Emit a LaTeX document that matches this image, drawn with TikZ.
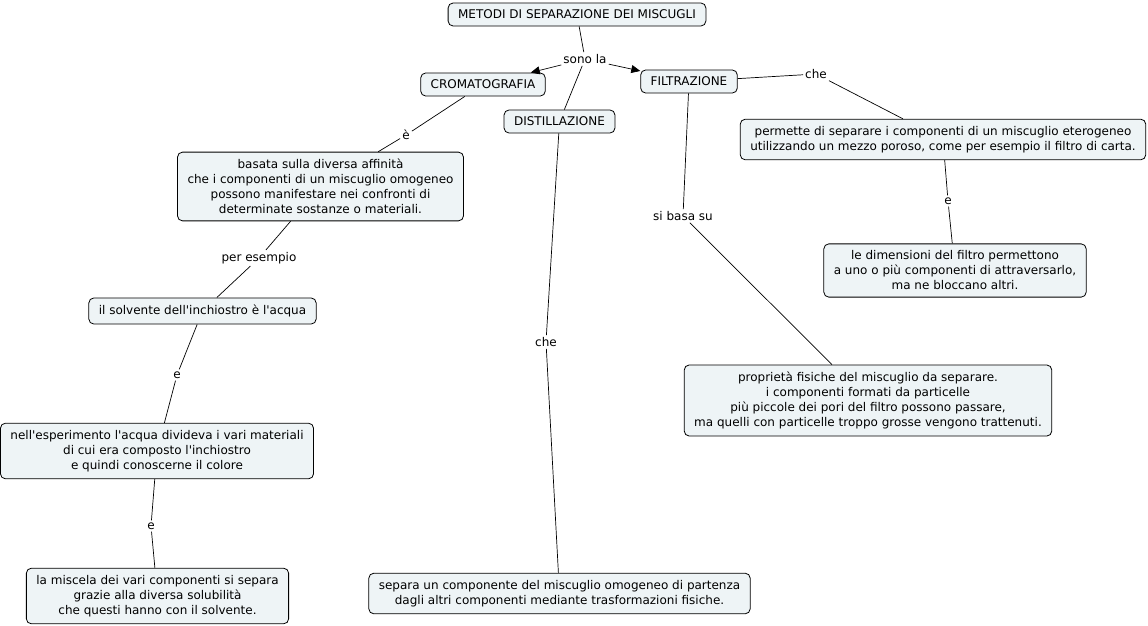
\documentclass[tikz,border=0pt]{standalone}
\usepackage{fontspec}
\newfontfamily\mapfont{DejaVu Sans}
\usetikzlibrary{arrows.meta}
\definecolor{conceptfill}{RGB}{238,244,246}

\begin{document}
\begin{tikzpicture}[x=1pt, y=-1pt, font=\mapfont\fontsize{12}{15}\selectfont]
% Define block styles
\tikzstyle{concept} = [rectangle, draw, fill=conceptfill, line width=0.8pt,
    align=center, rounded corners=5pt, inner xsep=10pt, inner ysep=7pt]
\tikzstyle{phrase} = [fill=white, inner sep=2pt]
\tikzstyle{line} = [draw, line width=0.7pt]
\tikzstyle{arrow} = [draw, line width=0.7pt, -{Triangle[length=9pt,width=8pt]}]

    \useasboundingbox (0,0) rectangle (1148,626);
    % Place nodes
    \node [concept] (metodi) at (577,14.5) {METODI DI SEPARAZIONE DEI MISCUGLI};
    \node [phrase] (sonola) at (585,59) {sono la};
    \node [concept] (croma) at (483,84.5) {CROMATOGRAFIA};
    \node [concept] (distil) at (559.5,121.5) {DISTILLAZIONE};
    \node [concept] (filtra) at (689,81.5) {FILTRAZIONE};
    \node [phrase] (cheF) at (816,74) {che};
    \node [concept] (permette) at (943,139.5) {permette di separare i componenti di un miscuglio eterogeneo\\utilizzando un mezzo poroso, come per esempio il filtro di carta.};
    \node [phrase] (eF) at (948,201) {e};
    \node [concept] (dimensioni) at (955,270.5) {le dimensioni del filtro permettono\\a uno o più componenti di attraversarlo,\\ma ne bloccano altri.};
    \node [phrase] (basasu) at (683,216) {si basa su};
    \node [concept] (proprieta) at (868,400.5) {proprietà fisiche del miscuglio da separare.\\i componenti formati da particelle\\più piccole dei pori del filtro possono passare,\\ma quelli con particelle troppo grosse vengono trattenuti.};
    \node [phrase] (cheD) at (546,342) {che};
    \node [concept] (separa) at (559.5,593.5) {separa un componente del miscuglio omogeneo di partenza\\dagli altri componenti mediante trasformazioni fisiche.};
    \node [phrase] (eC) at (406,135) {è};
    \node [concept] (basata) at (320.5,186.5) {basata sulla diversa affinità\\che i componenti di un miscuglio omogeneo\\possono manifestare nei confronti di\\determinate sostanze o materiali.};
    \node [phrase] (peresempio) at (259,258) {per esempio};
    \node [concept] (solvente) at (202.5,311) {il solvente dell'inchiostro è l'acqua};
    \node [phrase] (e1) at (177,375) {e};
    \node [concept] (esperimento) at (157,451) {nell'esperimento l'acqua divideva i vari materiali\\di cui era composto l'inchiostro\\e quindi conoscerne il colore};
    \node [phrase] (e2) at (151,526) {e};
    \node [concept] (miscela) at (157.5,596) {la miscela dei vari componenti si separa\\grazie alla diversa solubilità\\che questi hanno con il solvente.};
    % Draw edges
    \path [line] (metodi) -- (sonola);
    \path [arrow] (sonola) -- (croma);
    \path [arrow] (sonola) -- (filtra);
    \path [line] (sonola) -- (distil);
    \path [line] (filtra) -- (cheF);
    \path [line] (cheF) -- (permette);
    \path [line] (permette) -- (eF);
    \path [line] (eF) -- (dimensioni);
    \path [line] (filtra) -- (basasu);
    \path [line] (basasu) -- (proprieta);
    \path [line] (distil) -- (cheD);
    \path [line] (cheD) -- (separa);
    \path [line] (croma) -- (eC);
    \path [line] (eC) -- (basata);
    \path [line] (basata) -- (peresempio);
    \path [line] (peresempio) -- (solvente);
    \path [line] (solvente) -- (e1);
    \path [line] (e1) -- (esperimento);
    \path [line] (esperimento) -- (e2);
    \path [line] (e2) -- (miscela);
\end{tikzpicture}
\end{document}
